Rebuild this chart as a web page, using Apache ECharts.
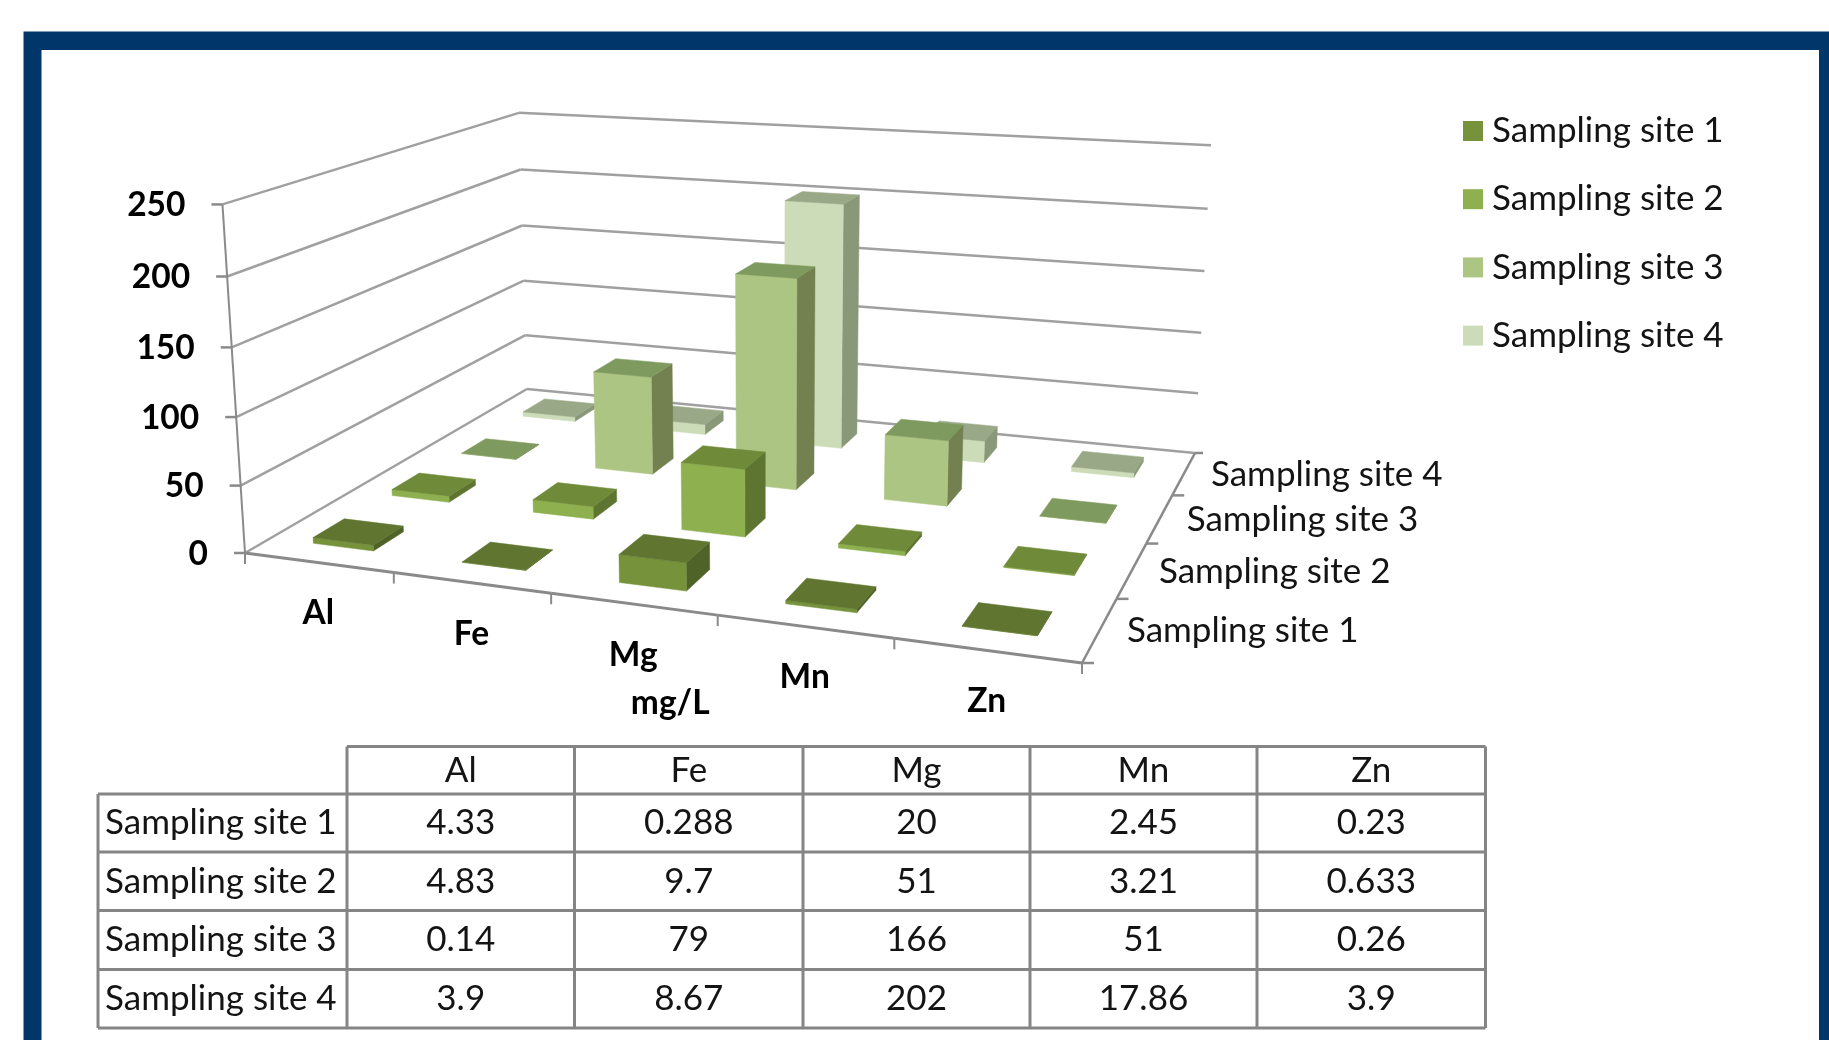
<!DOCTYPE html>
<html>
<head>
<meta charset="utf-8">
<title>Metal concentrations by sampling site</title>
<style>
  html, body { margin: 0; padding: 0; background: #fff; }
  #chart { width: 1829px; height: 1040px; }
</style>
<script src="https://cdn.jsdelivr.net/npm/echarts@6/dist/echarts.min.js"></script>
</head>
<body>
<div id="chart"></div>
<script>
// Measured concentrations, mg/L
const metals = ['Al', 'Fe', 'Mg', 'Mn', 'Zn'];
const sites = ['Sampling site 1', 'Sampling site 2', 'Sampling site 3', 'Sampling site 4'];
const site1 = [4.33, 0.288, 20, 2.45, 0.23];
const site2 = [4.83, 9.7, 51, 3.21, 0.633];
const site3 = [0.14, 79, 166, 51, 0.26];
const site4 = [3.9, 8.67, 202, 17.86, 3.9];
const siteValues = [site1, site2, site3, site4];
const valueTicks = [0, 50, 100, 150, 200, 250];
const unitLabel = 'mg/L';

// Face shades for each site: front, top, right side
const faceFront = ['#76933c', '#8fb04e', '#adc583', '#cddcb8'];
const faceTop = ['#5f7530', '#6f8a38', '#7f9a5f', '#99a987'];
const faceSide = ['#4f6228', '#5d7530', '#738050', '#889878'];

// Camera: floor corners on screen, and the projected direction of the vertical axis
const floorCorners = { nearLeft: [245, 553], nearRight: [1082, 663], farRight: [1195, 453], farLeft: [527, 389] };
const upVector = [-31.7, -357, -0.0412];

// Bar footprint as a share of its cell: width, then depth ahead of and behind the cell centre
const barWidthShare = 0.41;
const barFrontShare = 0.205;
const barBackShare = 0.175;

const gridColor = '#a0a0a0';
const axisColor = '#8a8a8a';
const boldFont = 'bold 33.5px Lato';
const plainFont = '35px Lato';
const inkColor = '#141414';

function floorHomography(c) {
  const [x0, y0] = c.nearLeft, [x1, y1] = c.nearRight, [x2, y2] = c.farRight, [x3, y3] = c.farLeft;
  const dx1 = x1 - x2, dx2 = x3 - x2, dx3 = x0 - x1 + x2 - x3;
  const dy1 = y1 - y2, dy2 = y3 - y2, dy3 = y0 - y1 + y2 - y3;
  const den = dx1 * dy2 - dx2 * dy1;
  const g = (dx3 * dy2 - dx2 * dy3) / den;
  const h = (dx1 * dy3 - dx3 * dy1) / den;
  return { a: x1 - x0 + g * x1, b: x3 - x0 + h * x3, c: x0, d: y1 - y0 + g * y1, e: y3 - y0 + h * y3, f: y0, g, h };
}
const H = floorHomography(floorCorners);

// u: along the metals, v: front to back, t: height as a share of the value axis
function project(u, v, t) {
  const w = H.g * u + H.h * v + 1 + t * upVector[2];
  return [
    (H.a * u + H.b * v + H.c + t * upVector[0]) / w,
    (H.d * u + H.e * v + H.f + t * upVector[1]) / w
  ];
}

// Reads the hidden cartesian axes, so heights and columns come from their scales
function toUnit(api, params, category, value) {
  const p = api.coord([category, value]);
  const r = params.coordSys;
  return { u: (p[0] - r.x) / r.width, t: (r.y + r.height - p[1]) / r.height };
}

function poly(points, fill) {
  return {
    type: 'polygon',
    shape: { points },
    style: { fill, stroke: fill, lineWidth: 0.5 }
  };
}

function line(a, b, stroke, width) {
  return {
    type: 'line',
    shape: { x1: a[0], y1: a[1], x2: b[0], y2: b[1] },
    style: { stroke, lineWidth: width }
  };
}

function label(text, x, y, font, align, fill) {
  return {
    type: 'text',
    style: { text, x, y, font, align, verticalAlign: 'middle', fill }
  };
}

function barItem(siteIndex) {
  return function (params, api) {
    const m = toUnit(api, params, api.value(0), api.value(1));
    const halfU = barWidthShare / metals.length / 2;
    const v = (siteIndex + 0.5) / sites.length;
    const l = m.u - halfU, r = m.u + halfU, t = m.t;
    const n = v - barFrontShare / sites.length, f = v + barBackShare / sites.length;
    return {
      type: 'group',
      children: [
        poly([project(r, n, 0), project(r, f, 0), project(r, f, t), project(r, n, t)], faceSide[siteIndex]),
        poly([project(l, n, 0), project(r, n, 0), project(r, n, t), project(l, n, t)], faceFront[siteIndex]),
        poly([project(l, n, t), project(r, n, t), project(r, f, t), project(l, f, t)], faceTop[siteIndex])
      ]
    };
  };
}

// Walls, value ticks and value labels; the topmost tick also carries the axis line
function wallItem(params, api) {
  const value = api.value(1);
  const t = toUnit(api, params, 0, value).t;
  const near = project(0, 0, t), far = project(0, 1, t), right = project(1, 1, t);
  const width = 2.5;
  const children = [
    line(near, far, gridColor, width),
    line(far, right, gridColor, width),
    line([near[0] - 11, near[1]], near, axisColor, 2.5),
    label(String(value), near[0] - 37, near[1] + 1, boldFont, 'right', '#000')
  ];
  if (params.dataIndex === valueTicks.length - 1) {
    children.push(line(near, project(0, 0, 0), axisColor, 2));
  }
  return { type: 'group', children };
}

// Front axis segment, tick and metal label
function metalItem(params, api) {
  const m = toUnit(api, params, api.value(0), 0);
  const band = 1 / metals.length;
  const a = project(m.u - band / 2, 0, 0), b = project(m.u + band / 2, 0, 0), c = project(m.u, 0, 0);
  const children = [
    line(a, b, axisColor, 3),
    line(a, [a[0], a[1] + 11], axisColor, 2),
    label(metals[api.value(0)], c[0], c[1] + 51, boldFont, 'center', '#000')
  ];
  if (params.dataIndex === metals.length - 1) {
    children.push(line(b, [b[0], b[1] + 11], axisColor, 2));
  }
  return { type: 'group', children };
}

// Depth axis segment, tick and site label
function siteItem(params, api) {
  const s = api.value(0);
  const n = s / sites.length, f = (s + 1) / sites.length;
  const a = project(1, n, 0), b = project(1, f, 0), c = project(1, (n + f) / 2, 0);
  const children = [
    line(a, b, axisColor, 2.5),
    line(a, [a[0] + 12, a[1]], axisColor, 2.5),
    label(sites[s], c[0] + 27, c[1] + 1.5, plainFont, 'left', inkColor)
  ];
  if (params.dataIndex === sites.length - 1) {
    children.push(line(b, [b[0] + 8, b[1]], axisColor, 2.5));
  }
  return { type: 'group', children };
}

// Framed page and data table drawn with the library's graphic layer
const tableColumns = [98, 347, 574.5, 803, 1030, 1257, 1485.5];
const tableRows = [746.5, 794, 852, 910.5, 969.5, 1028];
const tableLine = '#858585';

function tableElements() {
  const out = [];
  const edge = (x1, y1, x2, y2) => out.push({
    type: 'line', z: 1,
    shape: { x1, y1, x2, y2 },
    style: { stroke: tableLine, lineWidth: 3 }
  });
  const last = tableRows.length - 1, lastCol = tableColumns.length - 1;
  edge(tableColumns[1], tableRows[0], tableColumns[lastCol], tableRows[0]);
  for (let r = 1; r <= last; r++) edge(tableColumns[0], tableRows[r], tableColumns[lastCol], tableRows[r]);
  edge(tableColumns[0], tableRows[1], tableColumns[0], tableRows[last]);
  for (let c = 1; c <= lastCol; c++) edge(tableColumns[c], tableRows[0], tableColumns[c], tableRows[last]);

  const cell = (text, x, y, align) => out.push({
    type: 'text', z: 2,
    style: { text, x, y, font: plainFont, align, verticalAlign: 'middle', fill: inkColor }
  });
  metals.forEach((name, c) => {
    const x = (tableColumns[c + 1] + tableColumns[c + 2]) / 2;
    cell(name, x, (tableRows[0] + tableRows[1]) / 2, 'center');
  });
  sites.forEach((name, r) => {
    const y = (tableRows[r + 1] + tableRows[r + 2]) / 2;
    cell(name, tableColumns[0] + 7, y, 'left');
    siteValues[r].forEach((val, c) => {
      cell(String(val), (tableColumns[c + 1] + tableColumns[c + 2]) / 2, y, 'center');
    });
  });
  return out;
}

const frame = [
  { type: 'rect', z: -3, shape: { x: 23.5, y: 31.5, width: 1806, height: 1009 }, style: { fill: '#00366a' } },
  { type: 'rect', z: -2, shape: { x: 41.5, y: 50, width: 1777.5, height: 990 }, style: { fill: '#ffffff' } }
];

const barSeries = sites.map((name, s) => ({
  type: 'custom',
  name,
  z: 10 + (sites.length - s),
  silent: true,
  itemStyle: { color: faceFront[s] },
  renderItem: barItem(s),
  encode: { x: 0, y: 1 },
  data: siteValues[s].map((v, m) => [m, v])
}));

const chart = echarts.init(document.getElementById('chart'), null, { renderer: 'canvas' });
chart.setOption({
  animation: false,
  backgroundColor: '#ffffff',
  grid: { left: 0, right: 0, top: 0, bottom: 0 },
  xAxis: { type: 'category', data: metals, show: false },
  yAxis: { type: 'value', min: 0, max: 250, interval: 50, show: false },
  legend: {
    data: sites,
    orient: 'vertical',
    left: 1463,
    top: 113.5,
    padding: 0,
    itemWidth: 20,
    itemHeight: 20,
    itemGap: 33.2,
    icon: 'rect',
    selectedMode: false,
    textStyle: { fontFamily: 'Lato', fontSize: 35, color: inkColor, lineHeight: 20, padding: [0, 0, 0, 4] }
  },
  graphic: { elements: frame.concat(tableElements()) },
  series: [
    {
      type: 'custom', silent: true, z: 5, renderItem: wallItem, encode: { x: 0, y: 1 },
      data: valueTicks.map(v => [0, v])
    },
    {
      type: 'custom', silent: true, z: 6, renderItem: metalItem, encode: { x: 0, y: 1 },
      data: metals.map((_, i) => [i, 0])
    },
    {
      type: 'custom', silent: true, z: 6, renderItem: siteItem, encode: { x: 0, y: 1 },
      data: sites.map((_, i) => [i, 0])
    },
    {
      type: 'custom', silent: true, z: 7, encode: { x: 0, y: 1 },
      renderItem(params, api) {
        const p = project(0.5, 0, 0);
        return label(unitLabel, p[0] + 37, p[1] + 99, boldFont, 'center', '#000');
      },
      data: [[2, 0]]
    }
  ].concat(barSeries)
});
</script>
</body>
</html>
